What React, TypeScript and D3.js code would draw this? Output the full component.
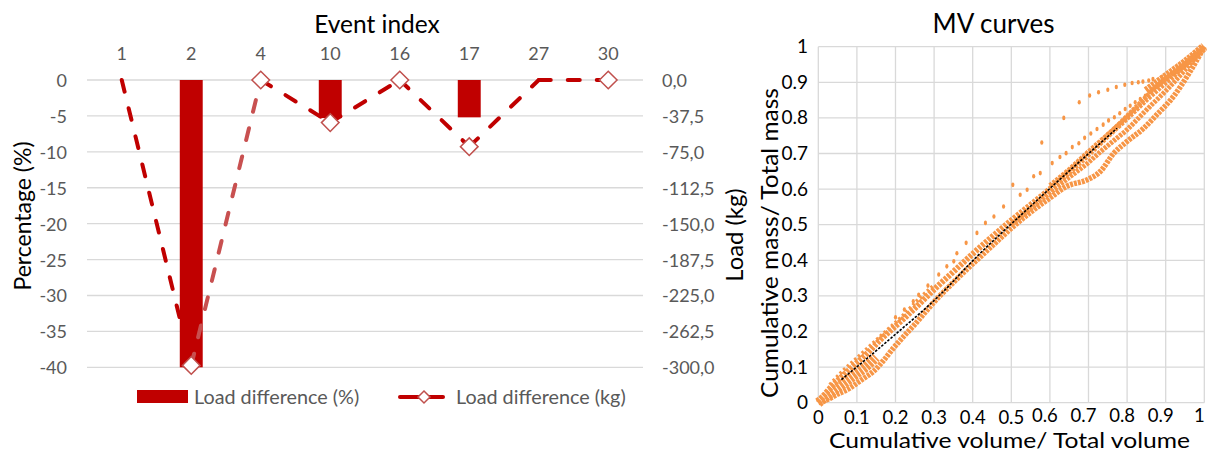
import React from 'react';
import * as d3 from 'd3';

// ---------- Left chart data ----------
const categories = ['1', '2', '4', '10', '16', '17', '27', '30'];
const loadPct = [0, -40, 0, -5.3, 0, -5.2, 0, 0];
const loadKg = [0, -298, 0, -44.5, 0, -69.6, 0, 0];
const kgMarker = [false, true, true, true, true, true, false, true];
const pctTicks = [0, -5, -10, -15, -20, -25, -30, -35, -40];
const kgTicks = [0, -37.5, -75, -112.5, -150, -187.5, -225, -262.5, -300];

// ---------- Right chart data ----------
type P = [number, number];
const mvTicks = [0, 0.1, 0.2, 0.3, 0.4, 0.5, 0.6, 0.7, 0.8, 0.9, 1];
const mvMainBand: P[] = [[0, 0], [0.02, 0.028], [0.05, 0.062], [0.08, 0.092], [0.1, 0.112], [0.13, 0.142], [0.16, 0.176], [0.2, 0.215], [0.25, 0.265], [0.3, 0.318], [0.35, 0.368], [0.4, 0.418], [0.45, 0.466], [0.5, 0.512], [0.55, 0.556], [0.6, 0.6], [0.65, 0.648], [0.7, 0.698], [0.75, 0.75], [0.8, 0.8], [0.85, 0.852], [0.9, 0.9], [0.95, 0.95], [1, 1]];
const mvUpperNoise: P[] = [[0.03, 0.05], [0.06, 0.085], [0.1, 0.125], [0.14, 0.165], [0.18, 0.205], [0.22, 0.245], [0.26, 0.29], [0.3, 0.33]];
const mvLowerBand: P[] = [[0, 0], [0.03, 0.012], [0.05, 0.024], [0.08, 0.04], [0.1, 0.055], [0.12, 0.07], [0.143, 0.088], [0.17, 0.12], [0.195, 0.154], [0.221, 0.186], [0.25, 0.22], [0.28, 0.258], [0.3, 0.283], [0.35, 0.338], [0.4, 0.39], [0.45, 0.44], [0.5, 0.49], [0.55, 0.535], [0.6, 0.575], [0.644, 0.608], [0.696, 0.626], [0.731, 0.65], [0.765, 0.7], [0.8, 0.734], [0.843, 0.771], [0.877, 0.809], [0.92, 0.86], [0.955, 0.916], [1, 1]];
const mvOriginBand: P[] = [[0, 0], [0.02, 0.017], [0.04, 0.034], [0.06, 0.05], [0.08, 0.066], [0.1, 0.082], [0.12, 0.098], [0.15, 0.128]];
const mvMidBand1: P[] = [[0.5, 0.5], [0.55, 0.545], [0.6, 0.59], [0.65, 0.633], [0.7, 0.675], [0.731, 0.705], [0.77, 0.74], [0.8, 0.767], [0.83, 0.8], [0.86, 0.833], [0.903, 0.879], [0.95, 0.935], [1, 1]];
const mvMidBand2: P[] = [[0.6, 0.61], [0.65, 0.655], [0.7, 0.705], [0.774, 0.777], [0.834, 0.842], [0.886, 0.898], [0.929, 0.935], [1, 1]];
const mvTopWedge: P[] = [[0.85, 0.875], [0.9, 0.915], [0.95, 0.955], [1, 1]];
const mvDottedUpper: P[] = [[0.2, 0.24], [0.223, 0.262], [0.246, 0.285], [0.26, 0.303], [0.284, 0.329], [0.312, 0.36], [0.333, 0.383], [0.351, 0.397], [0.359, 0.42], [0.383, 0.449], [0.411, 0.477], [0.433, 0.505], [0.455, 0.523], [0.48, 0.551], [0.523, 0.584], [0.541, 0.598], [0.558, 0.636], [0.575, 0.645], [0.606, 0.673], [0.626, 0.69], [0.642, 0.701], [0.658, 0.718], [0.675, 0.729], [0.69, 0.744], [0.706, 0.756], [0.722, 0.769], [0.738, 0.781], [0.752, 0.793], [0.767, 0.802], [0.781, 0.813], [0.795, 0.825], [0.808, 0.834], [0.821, 0.844], [0.834, 0.853], [0.847, 0.862], [0.86, 0.874]];
const mvSparseTop: P[] = [[0.504, 0.612], [0.579, 0.731], [0.636, 0.8], [0.676, 0.844], [0.703, 0.863], [0.726, 0.872], [0.75, 0.879], [0.772, 0.887], [0.794, 0.893], [0.813, 0.898], [0.829, 0.9], [0.841, 0.902], [0.856, 0.905], [0.867, 0.909], [0.89, 0.915], [0.92, 0.925]];
const mvBlack: P[] = [[0.06, 0.065], [0.19, 0.183], [0.32, 0.308], [0.403, 0.402], [0.549, 0.551], [0.774, 0.771]];

const FONT = "Lato, 'Open Sans', sans-serif";
const RED = '#C00000';
const RED_LIGHT = '#C85050';
const MARKER = '#C0504D';
const ORANGE = '#F79646';
const GRID = '#D9D9D9';
const GREY_TXT = '#595959';

const fmtKg = (v: number) => v.toFixed(1).replace('.', ',');

function LeftChart() {
  const x = d3.scaleBand<string>().domain(categories).range([87, 643]).paddingInner(0.67).paddingOuter(0.335);
  const bw = x.bandwidth();
  const cx = (c: string) => (x(c) as number) + bw / 2;
  const yP = d3.scaleLinear().domain([-40, 0]).range([367.3, 80]);
  const yK = d3.scaleLinear().domain([-300, 0]).range([367.3, 80]);
  const line = d3.line<[number, number]>().x((d) => d[0]).y((d) => d[1]);
  const pts: [number, number][] = categories.map((c, i) => [cx(c), yK(loadKg[i])]);
  const diamond = (px: number, py: number, r: number) => `M${px},${py - r}L${px + r},${py}L${px},${py + r}L${px - r},${py}Z`;
  return (
    <g fontFamily={FONT}>
      <text x={377} y={33} fontSize={24.5} textAnchor="middle" fill="#000">Event index</text>
      {pctTicks.map((t) => (
        <line key={'g' + t} x1={87} x2={643} y1={yP(t)} y2={yP(t)} stroke={GRID} strokeWidth={1.3} />
      ))}
      {categories.map((c) => (
        <text key={'c' + c} x={cx(c)} y={60} fontSize={18} textAnchor="middle" fill={GREY_TXT}>{c}</text>
      ))}
      {pctTicks.map((t) => (
        <text key={'l' + t} x={67} y={yP(t) + 7} fontSize={18} textAnchor="end" fill={GREY_TXT}>{String(t)}</text>
      ))}
      {kgTicks.map((t) => (
        <text key={'r' + t} x={662} y={yK(t) + 7} fontSize={18} textAnchor="start" fill={GREY_TXT}>{fmtKg(t)}</text>
      ))}
      {categories.map((c, i) => (
        <rect key={'b' + c} x={x(c)} y={yP(0)} width={bw} height={yP(loadPct[i]) - yP(0)} fill={RED} />
      ))}
      {pts.slice(0, -1).map((p, i) => (
        <path key={'s' + i} d={line([p, pts[i + 1]]) || ''} fill="none" stroke={i === 1 ? RED_LIGHT : RED}
          strokeWidth={4} strokeDasharray="12 17" strokeLinecap="round" />
      ))}
      {pts.map((p, i) => kgMarker[i] ? (
        <path key={'m' + i} d={diamond(p[0], p[1], 8.8)} fill="#fff" stroke={MARKER} strokeWidth={1.5} />
      ) : null)}
      <text transform="translate(31,216) rotate(-90)" fontSize={23} textAnchor="middle" fill="#000">Percentage (%)</text>
      <text transform="translate(743,235) rotate(-90)" fontSize={23.8} textAnchor="middle" fill="#000">Load (kg)</text>
      {/* legend */}
      <rect x={137} y={390} width={51} height={13} fill={RED} />
      <text x={194} y={404} fontSize={19.8} fill={GREY_TXT}>Load difference (%)</text>
      <line x1={400} x2={443} y1={397} y2={397} stroke={RED} strokeWidth={4} strokeLinecap="round" />
      <path d={diamond(424, 397, 6)} fill="#fff" stroke={MARKER} strokeWidth={1.5} />
      <text x={456} y={404} fontSize={19.8} fill={GREY_TXT}>Load difference (kg)</text>
    </g>
  );
}

function RightChart() {
  const x = d3.scaleLinear().domain([0, 1]).range([818.3, 1204.3]);
  const y = d3.scaleLinear().domain([0, 1]).range([402.7, 46.7]);
  const line = d3.line<P>().x((d) => x(d[0])).y((d) => y(d[1])).curve(d3.curveMonotoneX);
  const bands: { data: P[]; w: number; dash: string }[] = [
    { data: mvOriginBand, w: 10, dash: '3 1' },
    { data: mvLowerBand, w: 5.5, dash: '3 1' },
    { data: mvMainBand, w: 6, dash: '3 1.2' },
    { data: mvUpperNoise, w: 4, dash: '2.5 2.5' },
    { data: mvMidBand1, w: 5, dash: '3 1' },
    { data: mvMidBand2, w: 5, dash: '3 1' },
    { data: mvTopWedge, w: 9, dash: '3 0.8' },
  ];
  return (
    <g fontFamily={FONT}>
      <text x={993.5} y={33} fontSize={26} textAnchor="middle" fill="#000">MV curves</text>
      {mvTicks.map((t) => (
        <g key={'g' + t}>
          <line x1={x(t)} x2={x(t)} y1={y(0)} y2={y(1)} stroke={GRID} strokeWidth={1.3} />
          <line x1={x(0)} x2={x(1)} y1={y(t)} y2={y(t)} stroke={GRID} strokeWidth={1.3} />
        </g>
      ))}
      {mvTicks.map((t) => (
        <text key={'yl' + t} x={808} y={y(t) + 6.5} fontSize={19} textAnchor="end" fill="#000">{String(t)}</text>
      ))}
      {mvTicks.map((t) => (
        <text key={'xl' + t} x={x(t) - (t > 0.55 ? 5 : 0)} y={t > 0.55 ? 422 : 424} fontSize={18.5} textAnchor="middle" fill="#000">{String(t)}</text>
      ))}
      {bands.map((b, i) => (
        <path key={'band' + i} d={line(b.data) || ''} fill="none" stroke={ORANGE} strokeWidth={b.w} strokeDasharray={b.dash} />
      ))}
      {mvDottedUpper.concat(mvSparseTop).map((p, i) => (
        <ellipse key={'d' + i} cx={x(p[0])} cy={y(p[1])} rx={1.6} ry={2.3} fill={ORANGE} />
      ))}
      <path d={line(mvBlack) || ''} fill="none" stroke="#000" strokeWidth={1.6} strokeDasharray="2.5 1.5" />
      <text x={1009.5} y={447.5} fontSize={20.5} textAnchor="middle" fill="#000" textLength={361} lengthAdjust="spacingAndGlyphs">Cumulative volume/ Total volume</text>
      <text transform="translate(778,243) rotate(-90)" fontSize={23} textAnchor="middle" fill="#000" textLength={310} lengthAdjust="spacingAndGlyphs">Cumulative mass/ Total mass</text>
    </g>
  );
}

export default function App() {
  return (
    <svg width={1211} height={453} style={{ position: 'absolute', left: 0, top: 0, background: '#fff' }}>
      <rect x={0} y={0} width={1211} height={453} fill="#fff" />
      <LeftChart />
      <RightChart />
    </svg>
  );
}
